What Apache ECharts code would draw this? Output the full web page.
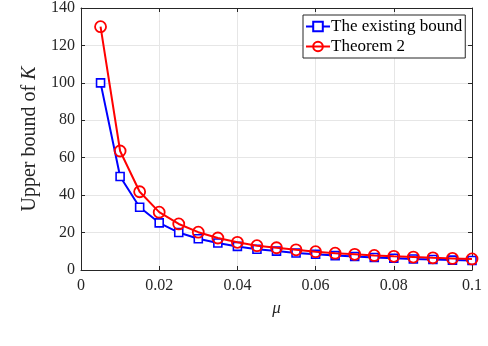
<!DOCTYPE html>
<html>
<head>
<meta charset="utf-8">
<script src="https://cdn.jsdelivr.net/npm/echarts@6/dist/echarts.min.js"></script>
<style>
  html, body { margin: 0; padding: 0; background: #fff; }
  #main { width: 488px; height: 346px; }
</style>
</head>
<body>
<div id="main"></div>
<script>
// mu 取值
const muValues = [0.005, 0.01, 0.015, 0.02, 0.025, 0.03, 0.035, 0.04, 0.045, 0.05,
  0.055, 0.06, 0.065, 0.07, 0.075, 0.08, 0.085, 0.09, 0.095, 0.1];
// 已有上界
const existingBound = [100, 50, 33.5, 25.2, 20, 16.7, 14.4, 12.6, 11.1, 10.1,
  9.1, 8.4, 7.7, 7.2, 6.7, 6.3, 5.9, 5.6, 5.3, 5.1];
// 定理 2
const theorem2 = [130, 63.6, 41.8, 30.9, 24.6, 20.2, 17.1, 14.8, 13, 11.9,
  10.8, 9.8, 9, 8.4, 7.8, 7.3, 6.9, 6.5, 6.2, 5.9];

const seriesNames = ['The existing bound', 'Theorem 2'];
const FONT = "'Liberation Serif', 'Times New Roman', serif";
const TXT = '#262626';

const chart = echarts.init(document.getElementById('main'));

const pairs = arr => muValues.map((m, i) => [m, arr[i]]);

const gridLine = { show: true, lineStyle: { color: '#e6e6e6', width: 1 } };
const axisLine = { show: true, onZero: false, lineStyle: { color: TXT, width: 1 } };
const ticksIn = { show: true, inside: true, length: 4, lineStyle: { color: TXT } };

const option = {
  animation: false,
  grid: { left: 81, right: 16, top: 6, bottom: 76 },
  legend: {
    orient: 'vertical',
    left: 303,
    top: 15,
    width: 162,
    padding: [3, 3, 3, 2],
    itemGap: 3,
    itemWidth: 24,
    itemHeight: 12,
    backgroundColor: '#fff',
    borderColor: '#262626',
    borderWidth: 1,
    textStyle: { fontFamily: FONT, fontSize: 17, color: '#000', padding: [0, 0, 0, -4] },
    data: seriesNames
  },
  xAxis: [
    {
      type: 'value', min: 0, max: 0.1, interval: 0.02,
      name: 'μ', nameLocation: 'middle', nameGap: 30,
      nameTextStyle: { fontFamily: FONT, fontSize: 17, fontStyle: 'italic', color: TXT },
      axisLine, axisTick: ticksIn, splitLine: gridLine,
      axisLabel: { fontFamily: FONT, fontSize: 16, color: TXT, margin: 8 }
    },
    {
      type: 'value', min: 0, max: 0.1, interval: 0.02, position: 'top',
      axisLine, axisTick: ticksIn, splitLine: { show: false }, axisLabel: { show: false }
    }
  ],
  yAxis: [
    {
      type: 'value', min: 0, max: 140, interval: 20,
      name: '{a|Upper bound of }{b|K}', nameLocation: 'middle', nameGap: 36, nameRotate: 90,
      nameTextStyle: {
        fontFamily: FONT, fontSize: 20, color: TXT,
        rich: {
          a: { fontFamily: FONT, fontSize: 20, color: TXT },
          b: { fontFamily: FONT, fontSize: 20, color: TXT, fontStyle: 'italic' }
        }
      },
      axisLine, axisTick: ticksIn, splitLine: gridLine,
      axisLabel: { fontFamily: FONT, fontSize: 16, color: TXT, margin: 6 }
    },
    {
      type: 'value', min: 0, max: 140, interval: 20, position: 'right',
      axisLine, axisTick: ticksIn, splitLine: { show: false }, axisLabel: { show: false }
    }
  ],
  series: [
    {
      name: seriesNames[0],
      type: 'line',
      data: pairs(existingBound),
      symbol: 'rect',
      symbolSize: 8,
      lineStyle: { color: '#0000ff', width: 2 },
      itemStyle: { color: '#fff', borderColor: '#0000ff', borderWidth: 1.6 },
      z: 2
    },
    {
      name: seriesNames[1],
      type: 'line',
      data: pairs(theorem2),
      symbol: 'circle',
      symbolSize: 11,
      lineStyle: { color: '#ff0000', width: 2 },
      itemStyle: { color: 'rgba(255,255,255,0)', borderColor: '#ff0000', borderWidth: 1.8 },
      z: 3
    }
  ]
};

chart.setOption(option);
</script>
</body>
</html>
